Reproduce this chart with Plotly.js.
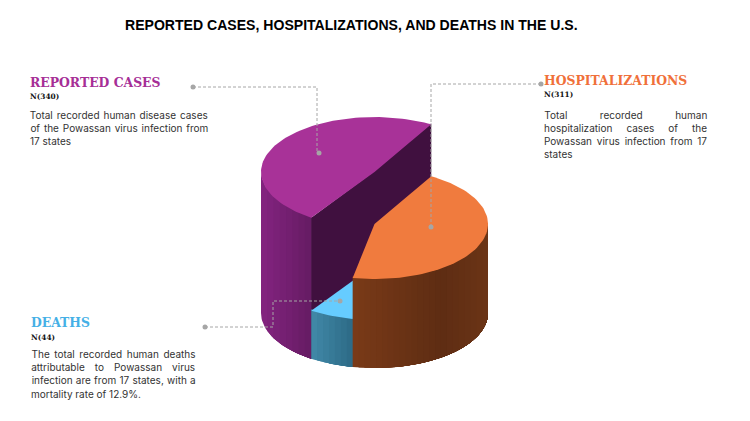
<!DOCTYPE html>
<html><head><meta charset="utf-8">
<script src="https://cdn.plot.ly/plotly-3.0.1.min.js"></script>
<style>html,body{margin:0;padding:0;background:#fff}#c{width:750px;height:421px}</style>
</head><body><div id="c"></div>
<script>
// Data (drawn clockwise from the start angle)
const categories = ['HOSPITALIZATIONS', 'DEATHS', 'REPORTED CASES'];
const counts = [311, 44, 340];
const drawOrder = [2, 1, 0];
const startAngle = 30;

// Pie geometry in the chart's axis units
const cx = 374.5, rx = 113.5, ry = 55, baseY = 313;
const topY = [224, 265, 172];
const topColors = ['#F07B3E', '#66CCFF', '#A83298'];
const sideColors = [
  [[0, [122, 58, 24]], [0.65, [94, 45, 19]], [1, [107, 52, 22]]],
  [[0, [65, 137, 168]], [1, [45, 106, 133]]],
  [[0, [132, 35, 128]], [1, [101, 28, 99]]]
];
const wallColor = '#40103F';
const titleText = 'REPORTED CASES, HOSPITALIZATIONS, AND DEATHS IN THE U.S.';

const total = counts.reduce((a, b) => a + b, 0);
const px = a => cx + rx * Math.sin(a * Math.PI / 180);
const py = (a, cy) => cy - ry * Math.cos(a * Math.PI / 180);
function arc(a0, a1, cy) {
  const n = Math.max(2, Math.ceil(Math.abs(a1 - a0) / 2)), out = [];
  for (let i = 0; i <= n; i++) { const a = a0 + (a1 - a0) * i / n; out.push([px(a), py(a, cy)]); }
  return out;
}
function poly(points, extra) {
  const p = points.concat([points[0]]);
  return Object.assign({type: 'scatter', mode: 'lines', x: p.map(q => q[0]), y: p.map(q => q[1]),
    fill: 'toself', line: {width: 0}, hoverinfo: 'skip', showlegend: false}, extra);
}
function ramp(stops, t) {
  for (let k = 1; k < stops.length; k++) {
    if (t <= stops[k][0]) {
      const u = (t - stops[k - 1][0]) / (stops[k][0] - stops[k - 1][0]);
      const c = stops[k - 1][1].map((v, j) => Math.round(v + (stops[k][1][j] - v) * u));
      return 'rgb(' + c.join(',') + ')';
    }
  }
  return 'rgb(' + stops[stops.length - 1][1].join(',') + ')';
}
// Angular extents
const spans = []; let acc = startAngle;
counts.forEach(v => { const s = v / total * 360; spans.push([acc, acc + s]); acc += s; });

const traces = [];
drawOrder.forEach(i => {
  const [a0, a1] = spans[i], cy = topY[i];
  // Visible outer wall: front half only, in overlapping vertical bands painted left to right
  const f0 = Math.max(a0, 90), f1 = Math.min(a1, 270);
  if (f1 > f0) {
    const xA = px(f0), xB = px(f1), xMin = Math.min(xA, xB), xMax = Math.max(xA, xB);
    const n = Math.max(5, Math.round((xMax - xMin) / 6));
    const toAngle = x => 180 - Math.asin((x - cx) / rx) * 180 / Math.PI; // front half
    for (let b = 0; b < n; b++) {
      const x = xMin + (xMax - xMin) * b / n;
      const col = ramp(sideColors[i], (b + 0.5) / n);
      const a = Math.min(f1, Math.max(f0, toAngle(x)));
      traces.push(poly(arc(f0, a, cy - 1.5).concat(arc(a, f0, baseY)), {fillcolor: col}));
    }
  }
  // Cut faces of the tallest slice, as one shape
  if (i === 2) {
    traces.push(poly([[px(a1), py(a1, cy) - 1], [cx, cy - 1], [px(a0), py(a0, cy)],
      [px(a0), py(a0, baseY)], [cx, baseY], [px(a1), py(a1, baseY)]], {fillcolor: wallColor}));
  }
  // Top surface
  traces.push(poly([[cx, cy]].concat(arc(a0, a1, cy)), {fillcolor: topColors[i], name: categories[i]}));
});

// Leaders
const leaderColor = '#A6A6A6';
function leader(xs, ys) {
  traces.push({type: 'scatter', mode: 'lines', x: xs, y: ys, hoverinfo: 'skip', showlegend: false,
    line: {color: leaderColor, width: 1, dash: '3px,2px'}});
  traces.push({type: 'scatter', mode: 'markers', x: [xs[0], xs[xs.length - 1]], y: [ys[0], ys[ys.length - 1]],
    hoverinfo: 'skip', showlegend: false, marker: {color: leaderColor, size: 5}});
}
leader([193, 317, 317, 319], [87, 87, 153, 153]);
leader([541, 431, 431], [84, 84, 227]);
leader([205, 273, 273, 340], [327, 327, 301, 301]);

// Text
const ann = [], justify = [];
const bodyFont = {family: 'Inter, sans-serif', size: 10, color: '#333333'};
function label(text, x, y, font, anchor) {
  ann.push({text, x, y, xref: 'x', yref: 'y', xanchor: anchor || 'left', yanchor: 'middle', showarrow: false,
    font, align: 'center', borderpad: 0, borderwidth: 0});
  justify.push(null);
}
function body(lines, left, right, y0, lh) {
  lines.forEach((t, k) => {
    const just = k < lines.length - 1;
    label(t, just ? (left + right) / 2 : left, y0 + k * lh, bodyFont, just ? 'center' : 'left');
    justify[justify.length - 1] = just ? right - left : null;
  });
}
const serif = '"DejaVu Serif", serif';
const headFont = c => ({family: serif, size: 12.4, color: c, weight: 700});
const nFont = {family: serif, size: 7.4, color: '#111111', weight: 700};
label(titleText, 351, 25, {family: 'Liberation Sans, Arial, sans-serif', size: 14.07, color: '#000000', weight: 700}, 'center');
label(categories[2], 30, 82, headFont('#A62E96'));
label('N(' + counts[2] + ')', 30, 96, nFont);
body(['Total recorded human disease cases', 'of the Powassan virus infection from', '17 states'], 30, 208, 115, 13.2);
label(categories[0], 544, 80, headFont('#F0703A'));
label('N(' + counts[0] + ')', 544, 94, nFont);
body(['Total recorded human', 'hospitalization cases of the', 'Powassan virus infection from 17', 'states'], 544, 707, 115, 13.1);
label(categories[1], 31, 322, headFont('#45B0E6'));
label('N(' + counts[1] + ')', 31, 337, nFont);
body(['The total recorded human deaths', 'attributable to Powassan virus', 'infection are from 17 states, with a', 'mortality rate of 12.9%.'], 31, 195, 354, 13.2);

const hidden = r => ({range: r, visible: false, fixedrange: true});
Plotly.newPlot('c', traces, {
  width: 750, height: 421, margin: {l: 0, r: 0, t: 0, b: 0},
  paper_bgcolor: '#fff', plot_bgcolor: '#fff', showlegend: false,
  xaxis: hidden([0, 750]), yaxis: hidden([421, 0]), annotations: ann
}, {displayModeBar: false, staticPlot: true}).then(gd => {
  const nodes = gd.querySelectorAll('.annotation-text');
  nodes.forEach((n, i) => {
    const w = justify[i]; if (!w) return;
    const txt = n.textContent, sp = (txt.match(/ /g) || []).length;
    const len = n.getComputedTextLength();
    n.style.wordSpacing = ((w - len) / sp) + 'px';
  });
});
</script></body></html>
